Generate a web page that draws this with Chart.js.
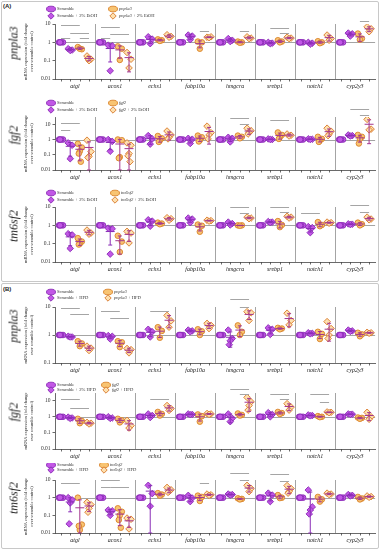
<!DOCTYPE html>
<html>
<head>
<meta charset="utf-8">
<script src="https://cdn.jsdelivr.net/npm/chart.js@4.4.1/dist/chart.umd.min.js"></script>
<style>
  html, body { margin: 0; padding: 0; background: #fff; }
  #fig { position: relative; width: 380px; height: 550px; overflow: hidden; }
  .frame { position: absolute; left: 1px; width: 376px; border: 1px solid #c8c8c8; border-radius: 2px; }
  .panel { position: absolute; left: 0; width: 380px; }
  .panel canvas { display: block; }
  .tag { position: absolute; left: 3px; font: bold 6px 'Liberation Sans', Arial, sans-serif; color: #222; }
  .gene-title { position: absolute; font: italic 12px 'Liberation Serif', serif; color: #222;
    white-space: nowrap; transform: translate(-50%, -50%) rotate(-90deg); }
</style>
</head>
<body>
<div id="fig">
  <div class="frame" style="top:1px;height:279px"></div>
  <div class="frame" style="top:283px;height:264px"></div>
  <div class="tag" style="top:3px">(A)</div>
  <div class="tag" style="top:286px">(B)</div>
</div>
<script>
const genes = ['atgl', 'acox1', 'echs1', 'fabp10a', 'hmgcra', 'srebp1', 'notch1', 'cyp2y3'];

// scramble control is the reference: always 1
const scrambleValues = [[1, 1, 1, 1], [1, 1, 1, 1], [1, 1, 1, 1], [1, 1, 1, 1],
                        [1, 1, 1, 1], [1, 1, 1, 1], [1, 1, 1, 1], [1, 1, 1, 1]];

// (A) pnpla3 + EtOH
const a1Names = ['Scramble', 'Scramble + 2% EtOH', 'pnpla3', 'pnpla3 + 2% EtOH'];
const a1Treated = [[0.45, 0.38, 0.36], [0.7, 0.65, 0.028], [2.0, 1.5, 0.85], [2.5, 2.2, 1.4],
                   [1.6, 1.3, 1.1], [1.0, 0.9, 0.85], [1.0, 0.9, 0.8], [3.2, 2.9, 2.2]];
const a1Mutant = [[0.55, 0.42, 0.45], [0.6, 0.45, 0.11], [1.45, 1.3, 1.2], [1.1, 1.0, 0.45],
                  [1.1, 1.0, 0.95], [1.3, 1.1, 1.0], [1.15, 1.0, 0.9], [3.0, 1.6, 1.4]];
const a1MutantTreated = [[0.18, 0.12, 0.1, 0.13], [0.28, 0.12, 0.04], [2.6, 2.1, 1.9], [1.9, 2.0, 1.8],
                         [2.0, 1.7, 1.6], [1.9, 1.7, 1.6], [2.5, 1.6, 1.3], [7.0, 5.5, 3.8]];
const a1Sig = [[0, 0, 2, 9], [0, 1, 3, 3.4], [0, 0, 1, 1.8], [0, 2, 3, 1.8], [1, 0, 2, 6.5], [1, 1, 3, 2.9],
               [1, 0, 1, 1.7], [3, 2, 3, 4.4], [4, 2, 3, 4.4], [5, 1, 3, 5.9], [5, 2, 3, 3.1], [7, 2, 3, 13.7]];

// (A) fgf2 + EtOH
const a2Names = ['Scramble', 'Scramble + 2% EtOH', 'fgf2', 'fgf2 + 2% EtOH'];
const a2Treated = [[0.6, 0.42, 0.055], [1.0, 0.75, 0.17], [1.8, 1.1, 0.5], [1.2, 1.05, 0.55],
                   [1.4, 1.2, 0.7], [1.1, 1.0, 1.0], [1.1, 1.05, 1.0], [2.0, 1.8, 1.7]];
const a2Mutant = [[0.52, 0.3, 0.17, 0.12, 0.035], [1.0, 0.9, 0.07, 0.06], [1.7, 1.2, 0.85, 0.7], [1.8, 1.4, 0.9, 0.75],
                  [1.8, 1.5, 1.2], [2.9, 2.0, 1.4, 1.1], [1.5, 1.1, 0.85, 0.7], [2.0, 1.5, 1.1, 0.55]];
const a2MutantTreated = [[0.9, 0.16, 0.08, 0.065], [0.6, 0.42, 0.12, 0.085, 0.035], [3.6, 2.0, 1.4, 1.1], [7.5, 2.8, 2.0, 1.1],
                         [5.5, 3.8, 2.8, 2.3], [2.3, 1.9, 1.7], [5.5, 3.5, 2.3, 1.8], [21, 4.8, 4.3]];
const a2Sig = [[0, 0, 2, 12], [0, 0, 1, 4.3], [4, 1, 3, 25], [4, 2, 3, 11], [5, 1, 3, 19], [7, 1, 3, 100], [7, 2, 3, 43]];

// (A) tm6sf2 + EtOH
const a3Names = ['Scramble', 'Scramble + 2% EtOH', 'tm6sf2', 'tm6sf2 + 2% EtOH'];
const a3Treated = [[0.35, 0.3, 0.055], [0.7, 0.65, 0.027], [2.0, 1.7, 0.9], [2.5, 2.2, 1.4],
                   [1.5, 1.25, 1.05], [1.6, 1.5, 1.4], [0.85, 0.75, 0.4], [1.2, 1.15, 1.1]];
const a3Mutant = [[0.2, 0.13, 0.1, 0.09], [0.27, 0.13, 0.035], [1.4, 1.25, 1.15], [1.1, 0.95, 0.45],
                  [1.0, 1.0, 0.95], [1.7, 1.05, 0.8], [1.5, 1.05, 0.9], [1.4, 1.15, 1.0]];
const a3MutantTreated = [[0.55, 0.38, 0.33], [0.47, 0.38, 0.11], [2.6, 2.3, 1.9], [1.9, 1.8, 1.7],
                         [2.8, 2.5, 2.3], [3.1, 2.8, 2.5], [1.5, 1.4, 1.3], [2.8, 2.2, 2.0]];
const a3Sig = [[4, 1, 3, 10.3], [4, 2, 3, 4.5], [5, 1, 3, 10.3], [5, 2, 3, 5.5], [6, 0, 2, 4.5], [7, 1, 3, 12.7], [7, 2, 3, 5.5]];

// (B) pnpla3 + HFD
const b1Names = ['Scramble', 'Scramble + HFD', 'pnpla3', 'pnpla3 + HFD'];
const b1Treated = [[0.9, 0.85, 0.85], [0.95, 0.9, 0.72], [1.6, 1.3, 0.85], [1.5, 1.4, 1.3],
                   [1.5, 0.75, 0.62, 0.45], [1.8, 1.6, 1.05], [1.2, 1.15, 1.1], [1.5, 1.4, 1.35]];
const b1Mutant = [[0.6, 0.5, 0.4], [0.6, 0.55, 0.37], [1.9, 1.4, 0.8], [1.6, 1.35, 1.0],
                  [2.2, 1.3, 1.0], [1.8, 1.7, 1.6], [1.3, 1.1, 0.72], [1.2, 1.05, 0.9]];
const b1MutantTreated = [[0.4, 0.34, 0.28], [0.33, 0.3, 0.23], [5.0, 3.2, 1.9], [2.6, 2.2, 1.7],
                         [6.8, 6.2, 3.3], [6.0, 3.3, 2.3], [3.0, 1.7, 1.0, 0.75], [1.25, 1.2, 1.15]];
const b1Sig = [[0, 0, 2, 8.9], [0, 1, 3, 5.4], [1, 0, 2, 7.2], [1, 1, 3, 4.2], [2, 1, 3, 7.2], [4, 1, 3, 18.9], [4, 2, 3, 9.7]];

// (B) fgf2 + HFD
const b2Names = ['Scramble', 'Scramble + 2% HFD', 'fgf2', 'fgf2 + HFD'];
const b2Treated = [[0.95, 0.85, 0.8], [1.0, 0.85, 0.8], [1.5, 1.2, 0.9], [1.5, 1.4, 1.35],
                   [1.5, 0.8, 0.5], [1.8, 1.4, 1.0], [1.3, 1.2, 1.15], [1.5, 1.45, 1.4]];
const b2Mutant = [[0.75, 0.55, 0.4], [0.75, 0.6, 0.45], [2.0, 1.5, 1.2], [1.4, 1.1, 0.5],
                  [1.6, 1.3, 1.2], [2.0, 1.7, 1.5], [1.1, 1.0, 0.95], [0.9, 0.85, 0.75]];
const b2MutantTreated = [[0.45, 0.4, 0.36], [0.6, 0.28, 0.2], [5.0, 3.2, 2.5], [1.6, 1.5, 1.4],
                         [16, 8.5, 5.0, 2.6], [6.5, 4.0, 2.6], [2.0, 1.9, 1.8], [1.9, 1.0, 0.7]];
const b2Sig = [[0, 0, 2, 12], [0, 1, 3, 3.3], [2, 1, 3, 12], [4, 1, 3, 51], [4, 2, 3, 24.7],
               [5, 1, 3, 24.7], [5, 2, 3, 12], [6, 1, 3, 24.7], [6, 2, 3, 7.9]];

// (B) tm6sf2 + HFD
const b3Names = ['Scramble', 'Scramble + HFD', 'tm6sf2', 'tm6sf2 + HFD'];
const b3Treated = [[1.0, 0.75, 0.5, 0.033], [0.2, 0.18, 0.1], [5.0, 1.7, 0.33], [1.35, 0.95, 0.6],
                   [1.6, 1.5, 1.4], [1.8, 1.4, 0.6], [2.7, 0.3, 0.2, 0.12], [1.5, 1.35, 1.25]];
const b3Mutant = [[1.0, 0.03, 0.015, 0.025], [0.25, 0.16, 0.1, 0.055, 0.02], [1.8, 1.5, 1.3], [1.3, 1.1, 0.65],
                  [0.92, 0.85, 0.8], [1.4, 1.0, 0.95], [1.1, 0.8, 0.6], [1.1, 0.9, 0.8]];
const b3MutantTreated = [[0.55, 0.4, 0.25, 0.15], [0.07, 0.06, 0.017], [3.8, 2.8, 2.2, 2.0], [1.6, 1.45, 1.35],
                         [5.0, 3.3, 2.2], [4.8, 3.3, 2.2, 1.8], [1.8, 1.6, 1.5], [1.25, 1.15, 1.05]];
const b3Sig = [[0, 0, 2, 7.2], [1, 0, 2, 10.6], [1, 0, 1, 3.8], [1, 1, 3, 3.8], [3, 2, 3, 6.4],
               [4, 1, 3, 25], [4, 2, 3, 9.8], [5, 1, 3, 21], [5, 2, 3, 9]];

const decadeTicks = [0.01, 0.1, 1, 10];
const yTitle = ['mRNA expression (fold change', 'over scramble control)'];

// group slot inside each gene column, and small horizontal spread of replicates
const groupPos = [0.15, 0.38, 0.62, 0.85];
const jitter = [-0.05, 0.05, 0, -0.025, 0.025];

const groupStyles = [
  { pointStyle: 'circle', radius: 2.8, bg: '#c257e6', border: '#8a2db6', bar: '#8a2db6' },
  { pointStyle: 'rectRot', radius: 3.3, bg: '#c257e6', border: '#8a2db6', bar: '#8a2db6' },
  { pointStyle: 'circle', radius: 2.8, bg: '#f8c472', border: '#d9822a', bar: '#a3368f' },
  { pointStyle: 'rectRot', radius: 3.3, bg: '#fde0ae', border: '#d9782a', bar: '#a3368f' }
];

const panels = [
  { title: 'pnpla3', names: a1Names, series: [scrambleValues, a1Treated, a1Mutant, a1MutantTreated], sig: a1Sig,
    top: 0, height: 92, chartTop: 24, chartBottom: 79, yMin: 0.01, yMax: 10, legendRows: [-15, -8], col2: 113 },
  { title: 'fgf2', names: a2Names, series: [scrambleValues, a2Treated, a2Mutant, a2MutantTreated], sig: a2Sig,
    top: 92, height: 90, chartTop: 117, chartBottom: 170, yMin: 0.01, yMax: 30, legendRows: [-14, -7], col2: 113 },
  { title: 'tm6sf2', names: a3Names, series: [scrambleValues, a3Treated, a3Mutant, a3MutantTreated], sig: a3Sig,
    top: 182, height: 95, chartTop: 207, chartBottom: 262, yMin: 0.01, yMax: 10, legendRows: [-14, -7], col2: 115 },
  { title: 'pnpla3', names: b1Names, series: [scrambleValues, b1Treated, b1Mutant, b1MutantTreated], sig: b1Sig,
    top: 284, height: 89, chartTop: 307, chartBottom: 363, yMin: 0.1, yMax: 10, legendRows: [-15, -9], col2: 108 },
  { title: 'fgf2', names: b2Names, series: [scrambleValues, b2Treated, b2Mutant, b2MutantTreated], sig: b2Sig,
    top: 373, height: 90, chartTop: 393, chartBottom: 449, yMin: 0.01, yMax: 30, legendRows: [-8, -3], col2: 106 },
  { title: 'tm6sf2', names: b3Names, series: [scrambleValues, b3Treated, b3Mutant, b3MutantTreated], sig: b3Sig,
    top: 463, height: 85, chartTop: 480, chartBottom: 533, yMin: 0.01, yMax: 10, legendRows: [-15, -10], col2: 104 }
];

const SERIF = "'Liberation Serif', 'Times New Roman', serif";

function meanSd(vals) {
  const n = vals.length;
  const mean = vals.reduce((s, v) => s + v, 0) / n;
  if (n < 2) return { mean, sd: 0 };
  const ss = vals.reduce((s, v) => s + (v - mean) * (v - mean), 0);
  return { mean, sd: Math.sqrt(ss / (n - 1)) };
}

function makeDecor(p) {
  return {
    id: 'decor',
    beforeDatasetsDraw(chart) {
      const { ctx, chartArea, scales } = chart;
      ctx.save();
      ctx.strokeStyle = '#9a9a9a';
      ctx.lineWidth = 0.9;
      // gene dividers
      for (let i = 1; i < genes.length; i++) {
        const x = Math.round(scales.x.getPixelForValue(i)) + 0.5;
        ctx.beginPath();
        ctx.moveTo(x, chartArea.top);
        ctx.lineTo(x, chartArea.bottom);
        ctx.stroke();
      }
      // reference line at fold change 1
      const y1 = Math.round(scales.y.getPixelForValue(1)) + 0.5;
      ctx.beginPath();
      ctx.moveTo(chartArea.left, y1);
      ctx.lineTo(chartArea.right, y1);
      ctx.stroke();
      ctx.restore();
    },
    afterDatasetsDraw(chart) {
      const { ctx, chartArea, scales } = chart;
      const xs = scales.x, ys = scales.y;
      ctx.save();

      // mean +/- SD bars
      p.series.forEach((byGene, g) => {
        ctx.strokeStyle = groupStyles[g].bar;
        ctx.lineWidth = 1;
        byGene.forEach((vals, gi) => {
          const { mean, sd } = meanSd(vals);
          if (sd === 0) return;
          const x = xs.getPixelForValue(gi + groupPos[g]);
          const yHi = ys.getPixelForValue(mean + sd);
          const yLo = ys.getPixelForValue(Math.max(mean - sd, ys.min));
          const yM = ys.getPixelForValue(mean);
          ctx.beginPath();
          ctx.moveTo(x, yHi); ctx.lineTo(x, yLo);
          ctx.moveTo(x - 2, yHi); ctx.lineTo(x + 2, yHi);
          ctx.moveTo(x - 2, yLo); ctx.lineTo(x + 2, yLo);
          ctx.moveTo(x - 4.5, yM); ctx.lineTo(x + 4.5, yM);
          ctx.stroke();
        });
      });

      // significance brackets
      ctx.strokeStyle = '#a5a5a5';
      ctx.lineWidth = 1;
      p.sig.forEach(([gi, g1, g2, v]) => {
        const y = Math.round(ys.getPixelForValue(v)) + 0.5;
        ctx.beginPath();
        ctx.moveTo(xs.getPixelForValue(gi + groupPos[g1]), y);
        ctx.lineTo(xs.getPixelForValue(gi + groupPos[g2]), y);
        ctx.stroke();
      });

      // group tick marks under the x axis
      ctx.strokeStyle = '#444';
      ctx.lineWidth = 0.8;
      genes.forEach((_, gi) => {
        groupPos.forEach(gp => {
          const x = Math.round(xs.getPixelForValue(gi + gp)) + 0.5;
          ctx.beginPath();
          ctx.moveTo(x, chartArea.bottom);
          ctx.lineTo(x, chartArea.bottom + 2.5);
          ctx.stroke();
        });
      });

      // legend: two columns (scramble groups | mutant groups)
      ctx.textBaseline = 'middle';
      p.names.forEach((name, g) => {
        const st = groupStyles[g];
        const col = Math.floor(g / 2), row = g % 2;
        const x = col ? p.col2 : 51;
        const y = chartArea.top + p.legendRows[row];
        ctx.fillStyle = st.bg;
        ctx.strokeStyle = st.border;
        ctx.lineWidth = 0.9;
        const isCircle = st.pointStyle === 'circle';
        Chart.helpers.drawPointLegend(ctx, {
          pointStyle: st.pointStyle, radius: isCircle ? 2.8 : 3.2, borderWidth: 0.9, rotation: 0
        }, x, y, isCircle ? 9 : 0);
        ctx.fillStyle = '#333';
        let tx = x + 6;
        if (col === 1) {
          const gene = p.title;
          ctx.font = 'italic 4.6px ' + SERIF;
          ctx.fillText(gene, tx, y);
          tx += ctx.measureText(gene).width;
          ctx.font = '4.6px ' + SERIF;
          ctx.fillText(name.slice(gene.length), tx, y);
        } else {
          ctx.font = '4.6px ' + SERIF;
          ctx.fillText(name, tx, y);
        }
      });
      ctx.restore();
    }
  };
}

const fig = document.getElementById('fig');

panels.forEach(p => {
  const wrap = document.createElement('div');
  wrap.className = 'panel';
  wrap.style.top = p.top + 'px';
  wrap.style.height = p.height + 'px';
  const canvas = document.createElement('canvas');
  canvas.width = 380;
  canvas.height = p.height;
  wrap.appendChild(canvas);
  const label = document.createElement('div');
  label.className = 'gene-title';
  label.textContent = p.title;
  label.style.left = '14px';
  label.style.top = ((p.chartTop + p.chartBottom) / 2 - p.top - 9) + 'px';
  wrap.appendChild(label);
  fig.appendChild(wrap);

  const datasets = p.series.map((byGene, g) => ({
    label: p.names[g],
    data: byGene.flatMap((vals, gi) => vals.map((v, k) => ({ x: gi + groupPos[g] + jitter[k % jitter.length], y: v }))),
    pointStyle: groupStyles[g].pointStyle,
    pointRadius: groupStyles[g].radius,
    backgroundColor: groupStyles[g].bg,
    borderColor: groupStyles[g].border,
    pointBorderWidth: 0.9,
    showLine: false
  }));

  new Chart(canvas, {
    type: 'scatter',
    data: { datasets },
    options: {
      responsive: false,
      animation: false,
      devicePixelRatio: 1,
      layout: { padding: { top: p.chartTop - p.top, left: 20, right: 2, bottom: 0 } },
      plugins: { legend: { display: false }, tooltip: { enabled: false } },
      scales: {
        x: {
          type: 'linear', min: 0, max: genes.length,
          afterBuildTicks: s => { s.ticks = genes.map((g, i) => ({ value: i + 0.5 })); },
          afterFit: s => { s.height = p.height - (p.chartBottom - p.top); },
          ticks: {
            callback: (v, i) => genes[i], autoSkip: false, maxRotation: 0, padding: 4,
            font: { family: SERIF, size: 6, style: 'italic' }, color: '#222'
          },
          grid: { display: false, drawTicks: false },
          border: { display: true, color: '#444', width: 0.8 }
        },
        y: {
          type: 'logarithmic', min: p.yMin, max: p.yMax,
          afterBuildTicks: s => {
            s.ticks = decadeTicks.filter(v => v >= p.yMin && v <= p.yMax).map(v => ({ value: v }));
          },
          afterFit: s => { s.width = 35; },
          ticks: {
            callback: v => String(v), autoSkip: false, padding: 2,
            font: { family: SERIF, size: 5.5 }, color: '#333'
          },
          grid: { drawOnChartArea: false, tickLength: 2.5, color: '#444', lineWidth: 0.8 },
          border: { color: '#444', width: 0.8 },
          title: {
            display: true, text: yTitle, color: '#333',
            font: { family: SERIF, size: 4.5 }, padding: { top: 3.3, bottom: 0 }
          }
        }
      }
    },
    plugins: [makeDecor(p)]
  });
});
</script>
</body>
</html>
